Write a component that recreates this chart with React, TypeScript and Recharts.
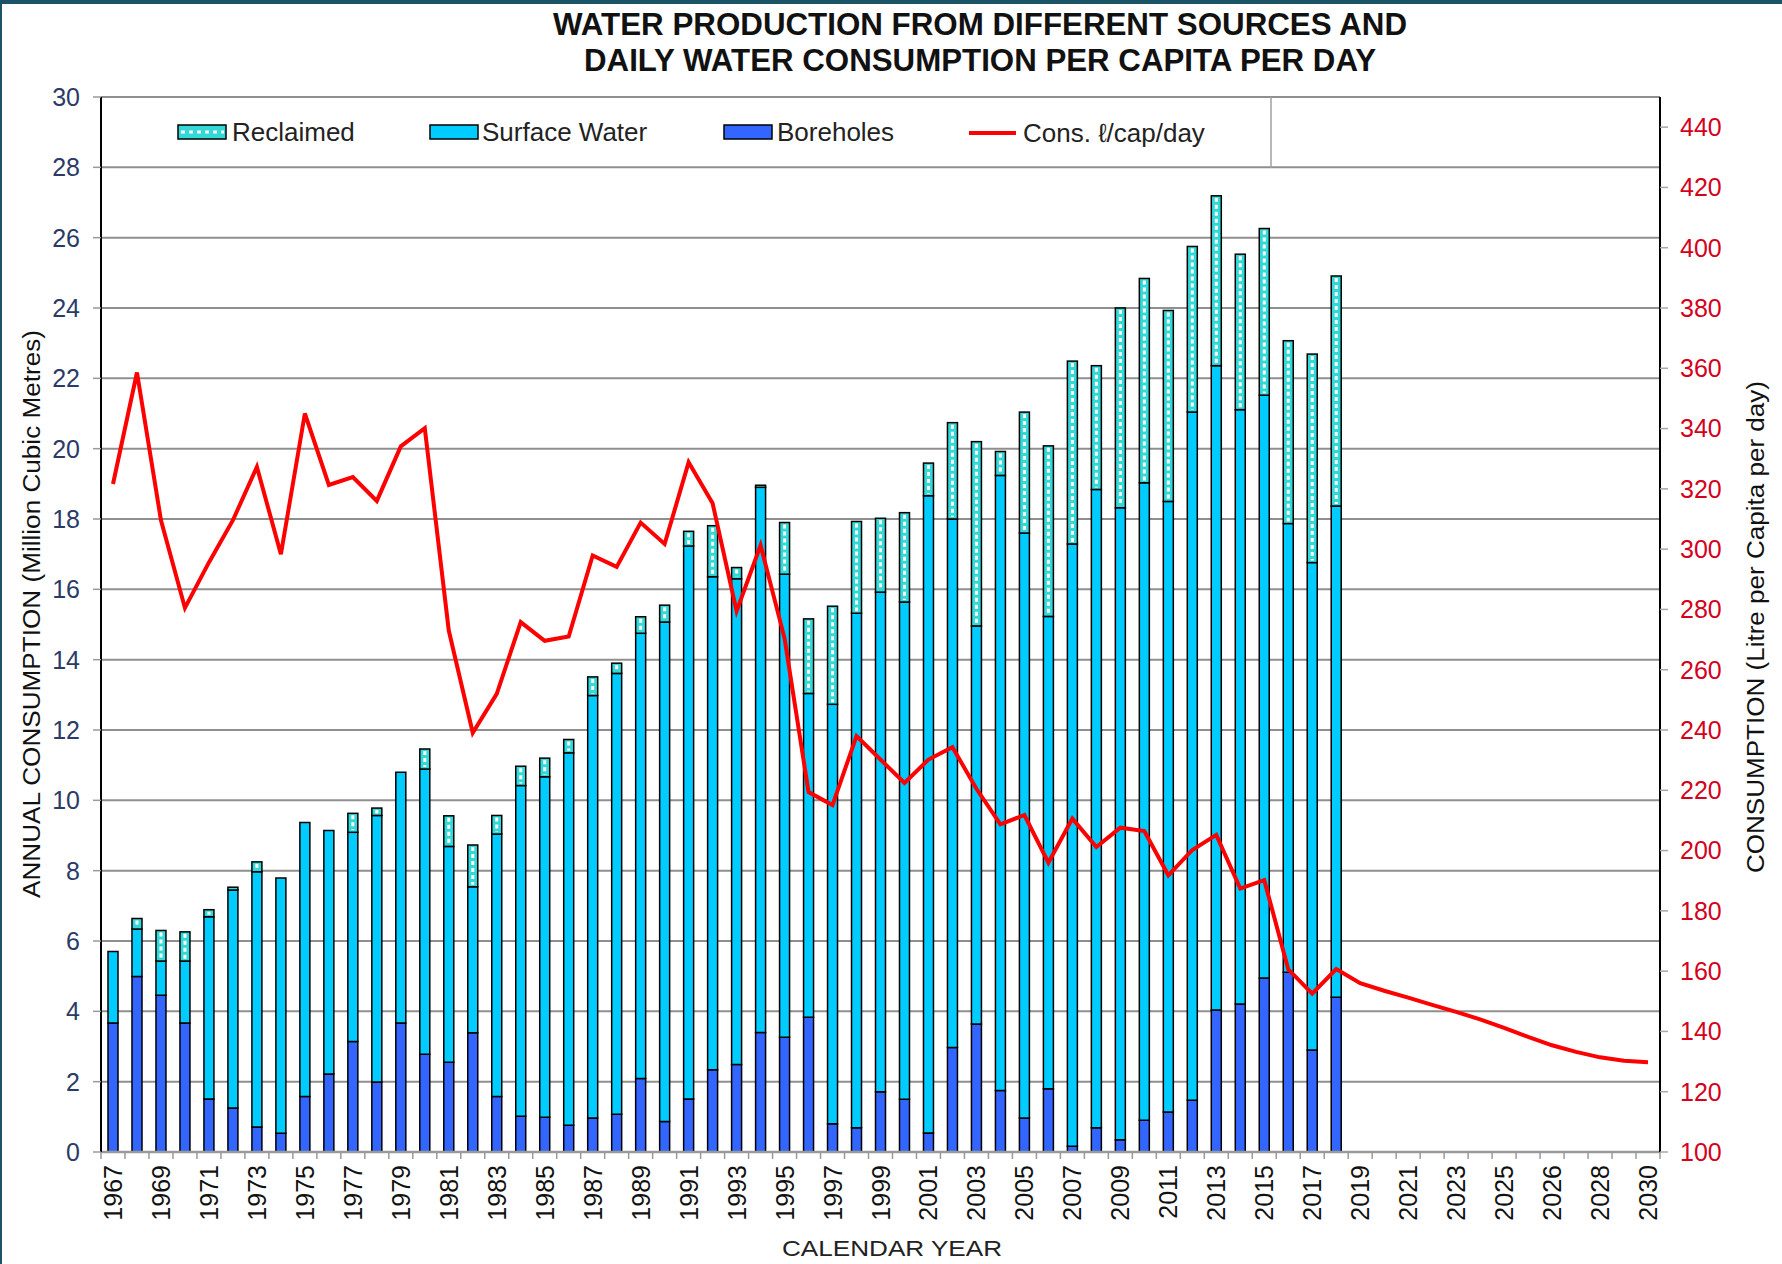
import React from 'react';
import { ComposedChart, Bar, Line, XAxis, YAxis, CartesianGrid, Legend } from 'recharts';

const FONT = '"Liberation Sans", Arial, Helvetica, sans-serif';

const years = [
  '1967', '1968', '1969', '1970', '1971', '1972', '1973', '1974', '1975', '1976',
  '1977', '1978', '1979', '1980', '1981', '1982', '1983', '1984', '1985', '1986',
  '1987', '1988', '1989', '1990', '1991', '1992', '1993', '1994', '1995', '1996',
  '1997', '1998', '1999', '2000', '2001', '2002', '2003', '2004', '2005', '2006',
  '2007', '2008', '2009', '2010', '2011', '2012', '2013', '2014', '2015', '2016',
  '2017', '2018', '2019', '2020', '2021', '2022', '2023', '2024', '2025', '2025/26',
  '2026', '2027', '2028', '2029', '2030',
];

const boreholes = [
  3.67, 4.99, 4.46, 3.67, 1.51, 1.25, 0.71, 0.53, 1.58, 2.22,
  3.14, 1.99, 3.67, 2.78, 2.55, 3.39, 1.58, 1.02, 0.99, 0.76,
  0.97, 1.07, 2.09, 0.87, 1.51, 2.34, 2.49, 3.40, 3.26, 3.83,
  0.80, 0.69, 1.71, 1.50, 0.54, 2.97, 3.64, 1.75, 0.97, 1.80,
  0.16, 0.69, 0.35, 0.90, 1.14, 1.47, 4.04, 4.21, 4.95, 5.11,
  2.90, 4.40,
];

const surfaceWater = [
  2.03, 1.35, 0.97, 1.76, 5.18, 6.20, 7.26, 7.26, 7.79, 6.92,
  5.95, 7.58, 7.13, 8.11, 6.14, 4.15, 7.46, 9.40, 9.68, 10.59,
  12.01, 12.54, 12.66, 14.20, 15.72, 14.02, 13.81, 15.50, 13.17, 9.21,
  11.93, 14.63, 14.21, 14.14, 18.12, 15.03, 11.32, 17.49, 16.63, 13.43,
  17.13, 18.15, 17.97, 18.13, 17.36, 19.57, 18.32, 16.90, 16.57, 12.76,
  13.86, 13.97,
];

const reclaimed = [
  0, 0.30, 0.87, 0.83, 0.20, 0.08, 0.28, 0, 0, 0,
  0.54, 0.21, 0, 0.57, 0.87, 1.19, 0.53, 0.55, 0.53, 0.38,
  0.53, 0.29, 0.47, 0.48, 0.42, 1.45, 0.32, 0.06, 1.47, 2.12,
  2.79, 2.61, 2.10, 2.54, 0.93, 2.74, 5.24, 0.68, 3.44, 4.85,
  5.20, 3.52, 5.68, 5.81, 5.43, 4.71, 4.83, 4.42, 4.74, 5.20,
  5.93, 6.54,
];

const consumption = [
  321.6, 358.6, 309.6, 280.5, 295.6, 309.6, 327.3, 298.3, 345.0, 321.3,
  323.9, 316.0, 334.1, 340.1, 273.0, 239.1, 252.0, 275.8, 269.6, 271.0,
  297.9, 294.1, 308.8, 301.7, 328.8, 315.2, 279.4, 301.3, 270.4, 219.4,
  215.1, 238.0, 230.2, 222.4, 230.2, 234.3, 220.5, 208.7, 211.8, 196.0,
  210.6, 201.2, 207.6, 206.5, 191.8, 200.2, 205.2, 187.4, 190.2, 160.6,
  152.5, 160.7, 156.0, 153.5, 151.2, 148.8, 146.5, 144.0, 141.2, 138.2,
  135.4, 133.2, 131.4, 130.3, 129.8,
];

const leftTicks = [0, 2, 4, 6, 8, 10, 12, 14, 16, 18, 20, 22, 24, 26, 28, 30];
const rightTicks = [100, 120, 140, 160, 180, 200, 220, 240, 260, 280, 300, 320, 340, 360, 380, 400, 420, 440];

const BOREHOLE = '#3366FF';
const SURFACE = '#00CCFF';
const RECLAIMED = '#33D9D9';
const LINE = '#FF0000';

const data = years.map((year, i) => ({
  year,
  boreholes: boreholes[i],
  surface: surfaceWater[i],
  reclaimed: reclaimed[i],
  cons: consumption[i],
}));

const XTick = (props: any) => {
  const { x, y, payload, index } = props;
  const off = payload && typeof payload.offset === 'number' ? payload.offset : 12;
  const axisY = y - 13;
  return (
    <g>
      <line x1={x - off} y1={axisY} x2={x - off} y2={axisY + 7} stroke="#9a9a9a" strokeWidth={1.5} />
      {index === years.length - 1 && (
        <line x1={x + off} y1={axisY} x2={x + off} y2={axisY + 7} stroke="#9a9a9a" strokeWidth={1.5} />
      )}
      {index % 2 === 0 && (
        <text
          x={x}
          y={y}
          transform={`rotate(-90 ${x} ${y})`}
          textAnchor="end"
          dy="0.36em"
          fontSize={25}
          fontFamily={FONT}
          fill="#111"
        >
          {payload.value}
        </text>
      )}
    </g>
  );
};

const ReclaimedShape = (props: any) => {
  const { x, y, width, height } = props;
  if (!height || height <= 0) return null;
  const cx = x + width / 2;
  return (
    <g>
      <rect x={x} y={y} width={width} height={height} fill={RECLAIMED} stroke="#000" strokeWidth={1.5} />
      {height > 5 && (
        <line
          x1={cx}
          y1={y + 2}
          x2={cx}
          y2={y + height - 2}
          stroke="#ffffff"
          strokeWidth={3}
          strokeDasharray="4 3"
        />
      )}
    </g>
  );
};

const renderLegend = () => (
  <svg width={1782} height={180} style={{ display: 'block' }}>
    <line x1={1271} y1={97} x2={1271} y2={168} stroke="#a0a0a0" strokeWidth={1.5} />
    <rect x={178} y={125} width={48} height={14} fill={RECLAIMED} stroke="#000" strokeWidth={1.5} />
    <line x1={181} y1={132} x2={224} y2={132} stroke="#fff" strokeWidth={3} strokeDasharray="4 4" />
    <text x={232} y={141} fontSize={26} fontFamily={FONT} fill="#222">Reclaimed</text>
    <rect x={430} y={125} width={48} height={14} fill={SURFACE} stroke="#000" strokeWidth={1.5} />
    <text x={482} y={141} fontSize={26} fontFamily={FONT} fill="#222">Surface Water</text>
    <rect x={724} y={125} width={48} height={14} fill={BOREHOLE} stroke="#000" strokeWidth={1.5} />
    <text x={777} y={141} fontSize={26} fontFamily={FONT} fill="#222">Boreholes</text>
    <line x1={969} y1={133} x2={1016} y2={133} stroke={LINE} strokeWidth={4} />
    <text x={1023} y={142} fontSize={26} fontFamily={FONT} fill="#222">Cons. ℓ/cap/day</text>
  </svg>
);

export default function App() {
  return (
    <div style={{ position: 'absolute', left: 0, top: 0, width: 1782, height: 1264, background: '#fff', overflow: 'hidden' }}>
      <ComposedChart
        width={1782}
        height={1264}
        data={data}
        margin={{ top: 97, right: 0, bottom: 0, left: 0 }}
        barSize={10}
      >
        <CartesianGrid yAxisId="left" vertical={false} horizontal stroke="#8f8f8f" strokeWidth={2} />
        <XAxis
          dataKey="year"
          interval={0}
          height={112}
          tick={<XTick />}
          tickLine={false}
          tickSize={8}
          tickMargin={5}
          axisLine={{ stroke: '#9a9a9a', strokeWidth: 2.5 }}
        />
        <YAxis
          yAxisId="left"
          orientation="left"
          width={101}
          domain={[0, 30]}
          ticks={leftTicks}
          interval={0}
          allowDataOverflow
          axisLine={{ stroke: '#000', strokeWidth: 2 }}
          tickLine={{ stroke: '#9a9a9a', strokeWidth: 1.5 }}
          tickSize={8}
          tickMargin={13}
          tick={{ fill: '#2B3A67', fontSize: 25, fontFamily: FONT }}
        />
        <YAxis
          yAxisId="right"
          orientation="right"
          width={122}
          domain={[100, 450]}
          ticks={rightTicks}
          interval={0}
          allowDataOverflow
          axisLine={{ stroke: '#000', strokeWidth: 2 }}
          tickLine={{ stroke: '#a8a8a8', strokeWidth: 1.5 }}
          tickSize={8}
          tickMargin={12}
          tick={{ fill: '#D4001C', fontSize: 25, fontFamily: FONT }}
        />
        <Legend
          layout="horizontal"
          verticalAlign="middle"
          align="center"
          content={renderLegend}
          wrapperStyle={{ position: 'absolute', left: 0, top: 0, width: 1782, height: 180, pointerEvents: 'none' }}
        />
        <Bar yAxisId="left" dataKey="boreholes" name="Boreholes" stackId="a" fill={BOREHOLE} stroke="#000" strokeWidth={1.5} isAnimationActive={false} />
        <Bar yAxisId="left" dataKey="surface" name="Surface Water" stackId="a" fill={SURFACE} stroke="#000" strokeWidth={1.5} isAnimationActive={false} />
        <Bar yAxisId="left" dataKey="reclaimed" name="Reclaimed" stackId="a" fill={RECLAIMED} shape={<ReclaimedShape />} isAnimationActive={false} />
        <Line yAxisId="right" dataKey="cons" name="Cons. ℓ/cap/day" type="linear" stroke={LINE} strokeWidth={4} dot={false} activeDot={false} isAnimationActive={false} />
      </ComposedChart>
      <svg width={1782} height={1264} style={{ position: 'absolute', left: 0, top: 0, pointerEvents: 'none' }}>
        <text x={980} y={35} textAnchor="middle" fontSize={32} fontWeight="bold" fontFamily={FONT} fill="#111" textLength={854} lengthAdjust="spacingAndGlyphs">
          WATER PRODUCTION FROM DIFFERENT SOURCES AND
        </text>
        <text x={980} y={71} textAnchor="middle" fontSize={32} fontWeight="bold" fontFamily={FONT} fill="#111" textLength={792} lengthAdjust="spacingAndGlyphs">
          DAILY WATER CONSUMPTION PER CAPITA PER DAY
        </text>
        <text x={32} y={614} transform="rotate(-90 32 614)" textAnchor="middle" dy="0.36em" fontSize={23} fontFamily={FONT} fill="#111" textLength={568} lengthAdjust="spacingAndGlyphs">
          ANNUAL CONSUMPTION (Million Cubic Metres)
        </text>
        <text x={1756} y={627} transform="rotate(-90 1756 627)" textAnchor="middle" dy="0.36em" fontSize={23} fontFamily={FONT} fill="#111" textLength={492} lengthAdjust="spacingAndGlyphs">
          CONSUMPTION (Litre per Capita per day)
        </text>
        <text x={892} y={1256} textAnchor="middle" fontSize={22} fontFamily={FONT} fill="#222" textLength={220} lengthAdjust="spacingAndGlyphs">
          CALENDAR YEAR
        </text>
      </svg>
      <div style={{ position: 'absolute', left: 0, top: 0, width: 1782, height: 4, background: '#1B5466' }} />
      <div style={{ position: 'absolute', left: 0, top: 0, width: 2, height: 1264, background: '#1B5466' }} />
    </div>
  );
}
